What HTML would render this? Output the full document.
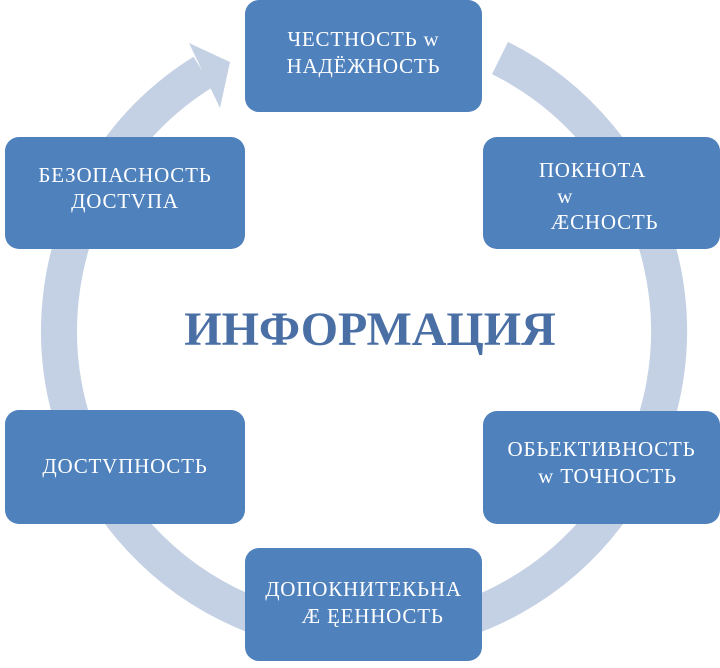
<!DOCTYPE html>
<html><head><meta charset="utf-8"><style>
html,body{margin:0;padding:0;background:#fff;}
body{width:720px;height:668px;position:relative;overflow:hidden;font-family:"Liberation Serif",serif;}
.b{position:absolute;background:#4f81bd;border-radius:14px;color:#fff;font-size:21px;letter-spacing:0.8px;line-height:27px;display:flex;align-items:center;justify-content:center;text-align:center;box-sizing:border-box;}
.t{position:absolute;left:170px;top:302px;width:400px;text-align:center;font-size:48px;font-weight:bold;color:#4a6fa5;}
</style></head><body>
<svg width="720" height="668" style="position:absolute;left:0;top:0">
<path d="M 500 58 A 305 305 0 1 1 203 72" fill="none" stroke="#c4d1e4" stroke-width="36"/>
<polygon points="189,43 230,62 220,108" fill="#c4d1e4"/>
</svg>
<div class="b" style="left:245px;top:0;width:237px;height:112px;padding-bottom:6px;">ЧЕСТНОСТЬ w<br>НАДЁЖНОСТЬ</div>
<div class="b" style="left:483px;top:137px;width:237px;height:112px;padding-top:6px;line-height:26px;">ПОКНОТА&nbsp;&nbsp;&nbsp;<br>w&nbsp;&nbsp;&nbsp;&nbsp;&nbsp;&nbsp;&nbsp;&nbsp;&nbsp;&nbsp;&nbsp;&nbsp;<br>&nbsp;ÆСНОСТЬ</div>
<div class="b" style="left:483px;top:411px;width:237px;height:113px;padding-bottom:10px;">ОБЬЕКТИВНОСТЬ<br>&nbsp;&nbsp;w ТОЧНОСТЬ</div>
<div class="b" style="left:245px;top:548px;width:237px;height:113px;padding-bottom:4px;">ДОПОКНИТЕКЬНА<br>&nbsp;&nbsp;&nbsp;Æ ĘЕННОСТЬ</div>
<div class="b" style="left:5px;top:410px;width:240px;height:114px;padding-bottom:2px;">ДОСТVПНОСТЬ</div>
<div class="b" style="left:5px;top:137px;width:240px;height:112px;padding-bottom:10px;line-height:26px;">БЕЗОПАСНОСТЬ<br>ДОСТVПА</div>
<div class="t">ИНФОРМАЦИЯ</div>
</body></html>
